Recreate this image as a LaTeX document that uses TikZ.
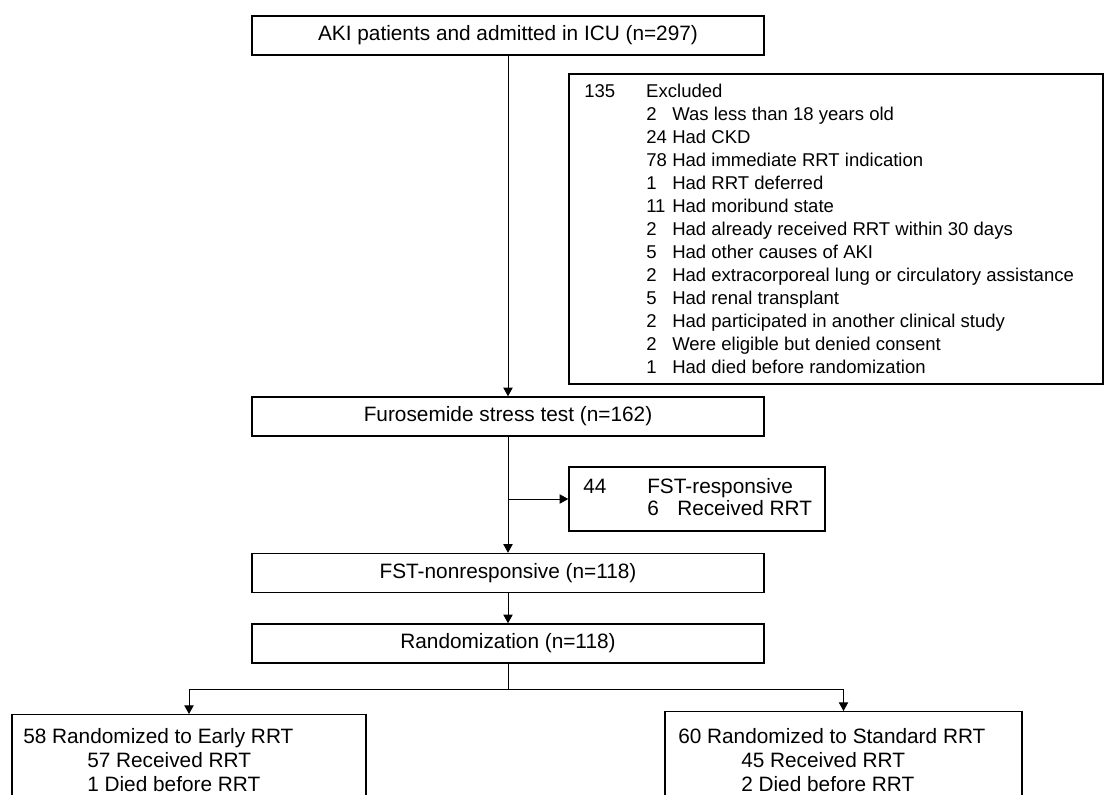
\documentclass[tikz,border=0pt]{standalone}
\usepackage{fontspec}
\setmainfont{Liberation Sans}
\usetikzlibrary{arrows.meta}
\begin{document}
\begin{tikzpicture}[x=0.75pt,y=-0.75pt,
  every node/.style={font=\fontsize{15.6pt}{17pt}\selectfont, inner sep=0pt},
  mainbox/.style={draw=black, line width=1.1pt, minimum width=384pt, minimum height=29.25pt},
  sidebox/.style={draw=black, line width=1.1pt},
  conn/.style={draw=black, line width=0.75pt},
  arr/.style={conn, -{Triangle[length=6.5pt,width=7pt]}},
  txt/.style={anchor=base west, align=left},
  smalltxt/.style={txt, font=\fontsize{13.9pt}{17.25pt}\selectfont},
  bottxt/.style={txt, font=\fontsize{15.6pt}{18pt}\selectfont}
]
\clip (0,0) rectangle (1104,794);
\fill[white] (0,0) rectangle (1104,794);

% main boxes
\node[mainbox] (aki) at (508,35.5) {AKI patients and admitted in ICU (n=297)};
\node[mainbox] (furo) at (508,416.5) {Furosemide stress test (n=162)};
\node[mainbox] (fstnon) at (508,573) {FST-nonresponsive (n=118)};
\node[mainbox] (rand) at (508,643.5) {Randomization (n=118)};

% excluded box
\node[sidebox, minimum width=400.5pt, minimum height=232.5pt] (exc) at (836,229) {};
\node[smalltxt] (exctext) at (584,97) {%
\begin{tabular}[t]{@{}p{46.5pt}@{}p{19.5pt}@{}l@{}}
135 & \multicolumn{2}{@{}l@{}}{Excluded}\\
 & 2 & Was less than 18 years old\\
 & 24 & Had CKD\\
 & 78 & Had immediate RRT indication\\
 & 1 & Had RRT deferred\\
 & 11 & Had moribund state\\
 & 2 & Had already received RRT within 30 days\\
 & 5 & Had other causes of AKI\\
 & 2 & Had extracorporeal lung or circulatory assistance\\
 & 5 & Had renal transplant\\
 & 2 & Had participated in another clinical study\\
 & 2 & Were eligible but denied consent\\
 & 1 & Had died before randomization
\end{tabular}};

% FST-responsive box
\node[sidebox, minimum width=192pt, minimum height=48pt] (fstresp) at (697,499) {};
\node[txt] (fstresptext) at (583,493) {%
\begin{tabular}[t]{@{}p{48pt}@{}p{22.5pt}@{}l@{}}
44 & \multicolumn{2}{@{}l@{}}{FST-responsive}\\
 & 6 & Received RRT
\end{tabular}};

% bottom boxes
\node[sidebox, minimum width=265.5pt, minimum height=72pt, anchor=north] (early) at (189,714) {};
\node[bottxt] (earlytext) at (23,743) {%
\begin{tabular}[t]{@{}l@{}}
58 Randomized to Early RRT\\
\hspace*{48pt}57 Received RRT\\
\hspace*{48pt}1 Died before RRT
\end{tabular}};

\node[sidebox, minimum width=267.75pt, minimum height=72pt, anchor=north] (std) at (843.5,711) {};
\node[bottxt] (stdtext) at (678,743) {%
\begin{tabular}[t]{@{}l@{}}
60 Randomized to Standard RRT\\
\hspace*{47.25pt}45 Received RRT\\
\hspace*{47.25pt}2 Died before RRT
\end{tabular}};

% connectors
\draw[arr] (aki.south) -- (furo.north);
\draw[arr] (furo.south) -- (fstnon.north);
\draw[arr] (furo.south |- fstresp.west) -- (fstresp.west);
\draw[arr] (fstnon.south) -- (rand.north);
\coordinate (split) at (508,689);
\draw[conn] (rand.south) -- (split);
\draw[arr] (split) -| (early.north);
\draw[arr] (split) -| (std.north);
\end{tikzpicture}
\end{document}
